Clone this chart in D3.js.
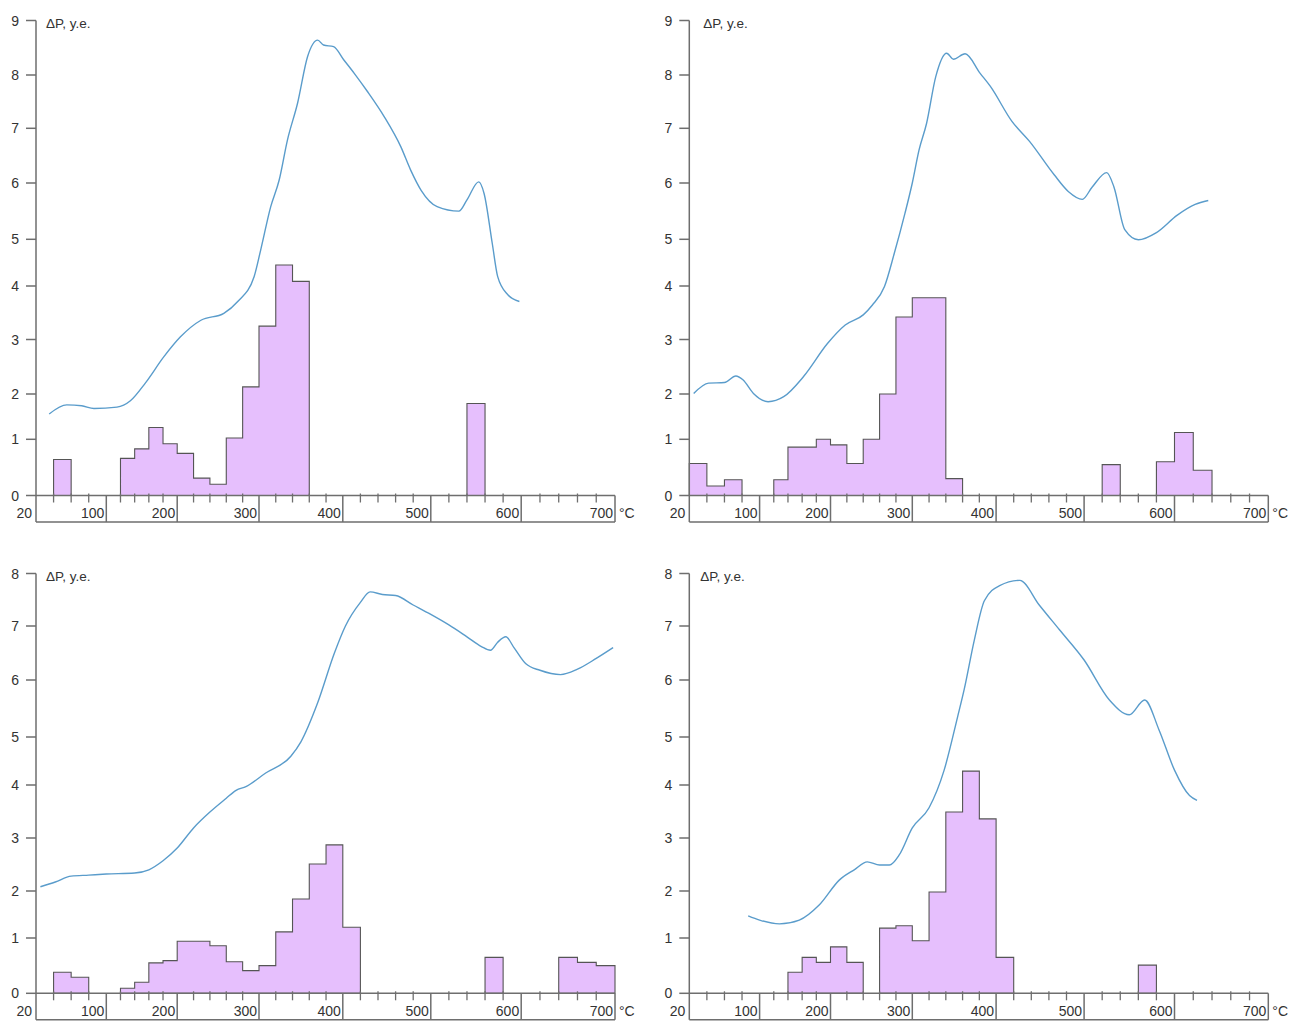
<!DOCTYPE html>
<html>
<head>
<meta charset="utf-8">
<script src="https://cdn.jsdelivr.net/npm/d3@7"></script>
<style>
  body { margin: 0; background: #fff; }
  svg { display: block; font-family: "Liberation Sans", Arial, sans-serif; }
</style>
</head>
<body>
<svg id="chart" width="1289" height="1021"></svg>
<script>
// temperature axis labels (°C)
const tempLabels = [20, 100, 200, 300, 400, 500, 600, 700];
const minorTemps = d3.range(40, 700, 20);
const yTicksTop = d3.range(0, 10);
const yTicksBottom = d3.range(0, 9);
const binWidth = 20;

// panel A (top left): histogram bins (start °C) and heights, curve
const binsA = [40, 120, 140, 160, 180, 200, 220, 240, 260, 280, 300, 320, 340, 540];
const barsA = [0.64, 0.66, 0.83, 1.26, 0.92, 0.75, 0.31, 0.2, 1.03, 2.13, 3.25, 4.45, 4.1, 1.79];
const tempA = [35, 55, 72, 86, 115, 134, 155, 181, 204, 229, 257, 274, 294, 302, 314, 324, 334, 346, 358, 370, 377, 389, 401, 413, 428, 447, 466, 477, 489, 507, 531, 540, 553, 559, 568, 574, 585, 598];
const curveA = [1.56, 1.76, 1.74, 1.68, 1.71, 1.85, 2.2, 2.68, 3.05, 3.36, 3.49, 3.71, 4.2, 4.77, 5.58, 6.05, 6.79, 7.47, 8.34, 8.64, 8.55, 8.52, 8.28, 8.03, 7.69, 7.22, 6.66, 6.24, 5.87, 5.58, 5.5, 5.7, 6.02, 5.81, 4.91, 4.2, 3.84, 3.71];

// panel B (top right)
const binsB = [20, 40, 60, 120, 140, 160, 180, 200, 220, 240, 260, 280, 300, 320, 340, 520, 580, 600, 620];
const barsB = [0.57, 0.17, 0.28, 0.28, 0.86, 0.86, 1.0, 0.9, 0.57, 1.0, 2.0, 3.42, 3.78, 3.78, 0.3, 0.55, 0.6, 1.15, 0.45];
const tempB = [25, 42, 60, 73, 81, 93, 112, 134, 162, 196, 218, 240, 251, 266, 278, 291, 300, 308, 317, 328, 341, 349, 363, 381, 393, 418, 438, 466, 482, 498, 509, 525, 533, 545, 560, 580, 603, 622, 636];
const curveB = [2.01, 2.2, 2.21, 2.33, 2.26, 2.01, 1.83, 1.94, 2.32, 2.93, 3.27, 3.46, 3.64, 3.99, 4.7, 5.46, 6.0, 6.6, 7.09, 7.97, 8.4, 8.29, 8.39, 8.03, 7.79, 7.13, 6.76, 6.15, 5.85, 5.71, 5.93, 6.19, 5.93, 5.17, 4.99, 5.12, 5.43, 5.62, 5.69];

// panel C (bottom left)
const binsC = [40, 60, 120, 140, 160, 180, 200, 220, 240, 260, 280, 300, 320, 340, 360, 380, 400, 560, 640, 660, 680];
const barsC = [0.38, 0.29, 0.09, 0.2, 0.55, 0.59, 0.94, 0.94, 0.86, 0.57, 0.41, 0.5, 1.13, 1.83, 2.51, 2.87, 1.23, 0.65, 0.65, 0.56, 0.5];
const tempC = [25, 42, 60, 80, 100, 140, 160, 180, 200, 220, 240, 260, 272, 284, 308, 338, 350, 370, 390, 403, 420, 431, 445, 460, 480, 500, 520, 540, 556, 566, 574, 583, 592, 605, 620, 642, 660, 680, 698];
const curveC = [2.08, 2.17, 2.28, 2.3, 2.32, 2.34, 2.4, 2.57, 2.81, 3.19, 3.49, 3.75, 3.9, 3.97, 4.25, 4.6, 4.9, 5.6, 6.5, 7.0, 7.45, 7.65, 7.6, 7.58, 7.4, 7.22, 7.02, 6.8, 6.62, 6.55, 6.7, 6.8, 6.6, 6.3, 6.18, 6.1, 6.2, 6.4, 6.6];

// panel D (bottom right)
const binsD = [140, 160, 180, 200, 220, 260, 280, 300, 320, 340, 360, 380, 400, 560];
const barsD = [0.38, 0.65, 0.56, 0.84, 0.56, 1.21, 1.26, 0.95, 1.98, 3.49, 4.29, 3.36, 0.65, 0.51];
const tempD = [87, 100, 128, 156, 184, 211, 229, 245, 260, 272, 284, 300, 320, 338, 354, 362, 374, 386, 404, 427, 449, 472, 500, 528, 550, 567, 583, 600, 616, 624];
const curveD = [1.47, 1.38, 1.3, 1.38, 1.7, 2.21, 2.4, 2.55, 2.49, 2.49, 2.68, 3.19, 3.57, 4.31, 5.35, 5.84, 6.74, 7.48, 7.77, 7.87, 7.4, 6.93, 6.37, 5.65, 5.39, 5.65, 5.12, 4.31, 3.8, 3.71];

const svg = d3.select('#chart');

const axisColor = '#6e6e6e';
const barFill = '#e6bffd';
const barStroke = '#555';
const lineColor = '#5a9ccb';

// the printed axes are not evenly spaced, so the scales are piecewise
const xOffsets = [0, 70.3, 141.2, 223, 306.8, 394.8, 485.2, 579];
const yTopPx = [495.5, 439.3, 394, 339.5, 286, 239.3, 183, 128.3, 75, 20.5];
const yBottomPx = [993.3, 938, 891, 838, 785, 737, 680, 626, 573.5];

function drawPanel(x0, yPx, yTicks, bins, bars, temps, curve, labelDx) {
    const x = d3.scaleLinear().domain(tempLabels).range(xOffsets.map(o => x0 + o));
    const y = d3.scaleLinear().domain(yTicks).range(yPx);
    const base = y(0);
    const boxBottom = base + 26.5;
    const g = svg.append('g');

    // histogram, contiguous bins drawn as one stepped outline
    let runs = [];
    bins.forEach((b, i) => {
        const last = runs[runs.length - 1];
        if (last && last[last.length - 1].t + binWidth === b) last.push({ t: b, v: bars[i] });
        else runs.push([{ t: b, v: bars[i] }]);
    });
    runs = runs.map(r => r.concat([{ t: r[r.length - 1].t + binWidth, v: r[r.length - 1].v }]));

    const area = d3.area()
        .curve(d3.curveStepAfter)
        .x(d => x(d.t))
        .y0(base)
        .y1(d => y(d.v));

    g.append('g')
        .selectAll('path')
        .data(runs)
        .join('path')
        .attr('d', area)
        .attr('fill', barFill)
        .attr('stroke', barStroke)
        .attr('stroke-width', 1.1);

    // curve
    const pts = temps.map((t, i) => [t, curve[i]]);
    g.append('path')
        .attr('d', d3.line().curve(d3.curveMonotoneX).x(d => x(d[0])).y(d => y(d[1]))(pts))
        .attr('fill', 'none')
        .attr('stroke', lineColor)
        .attr('stroke-width', 1.4);

    // y axis
    const yTop = y(yTicks[yTicks.length - 1]);
    g.append('line')
        .attr('x1', x0).attr('x2', x0)
        .attr('y1', yTop).attr('y2', boxBottom)
        .attr('stroke', axisColor).attr('stroke-width', 1.5);
    g.append('g')
        .selectAll('line')
        .data(yTicks)
        .join('line')
        .attr('x1', x0 - 10).attr('x2', x0)
        .attr('y1', d => y(d)).attr('y2', d => y(d))
        .attr('stroke', axisColor).attr('stroke-width', 1.5);
    g.append('g')
        .selectAll('text')
        .data(yTicks)
        .join('text')
        .attr('x', x0 - 17)
        .attr('y', d => y(d) + 5)
        .attr('text-anchor', 'end')
        .attr('font-size', 14)
        .attr('fill', '#333')
        .text(d => d);

    g.append('text')
        .attr('x', x0 + labelDx)
        .attr('y', yTop + 7)
        .attr('font-size', 13.5)
        .attr('fill', '#333')
        .text('ΔP, y.e.');

    // x axis strip
    const xEnd = x(700);
    g.append('line')
        .attr('x1', x0).attr('x2', xEnd)
        .attr('y1', base).attr('y2', base)
        .attr('stroke', axisColor).attr('stroke-width', 1.5);
    g.append('line')
        .attr('x1', x0).attr('x2', xEnd)
        .attr('y1', boxBottom).attr('y2', boxBottom)
        .attr('stroke', axisColor).attr('stroke-width', 1.5);
    g.append('g')
        .selectAll('line')
        .data(tempLabels.slice(1))
        .join('line')
        .attr('x1', d => x(d)).attr('x2', d => x(d))
        .attr('y1', base).attr('y2', boxBottom)
        .attr('stroke', axisColor).attr('stroke-width', 1.5);
    g.append('g')
        .selectAll('line')
        .data(minorTemps.filter(t => t % 100 !== 0))
        .join('line')
        .attr('x1', d => x(d)).attr('x2', d => x(d))
        .attr('y1', base - 2).attr('y2', base + 7)
        .attr('stroke', axisColor).attr('stroke-width', 1.3);
    g.append('g')
        .selectAll('text')
        .data(tempLabels)
        .join('text')
        .attr('x', d => d === 20 ? x0 - 4 : x(d) - 2)
        .attr('y', base + 22.5)
        .attr('text-anchor', 'end')
        .attr('font-size', 14)
        .attr('fill', '#333')
        .text(d => d);
    g.append('text')
        .attr('x', xEnd + 4)
        .attr('y', base + 22.5)
        .attr('font-size', 14)
        .attr('fill', '#333')
        .text('°C');
}

drawPanel(36, yTopPx, yTicksTop, binsA, barsA, tempA, curveA, 10);
drawPanel(689.3, yTopPx, yTicksTop, binsB, barsB, tempB, curveB, 14);
drawPanel(36, yBottomPx, yTicksBottom, binsC, barsC, tempC, curveC, 10);
drawPanel(689.3, yBottomPx, yTicksBottom, binsD, barsD, tempD, curveD, 11);
</script>
</body>
</html>
